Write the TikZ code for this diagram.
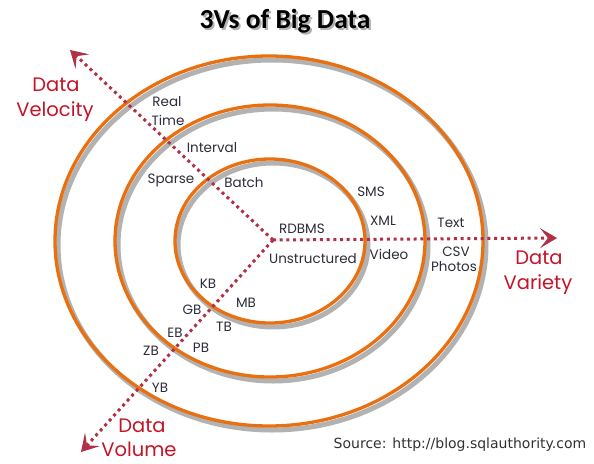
\documentclass[tikz,border=0pt]{standalone}
\usepackage{fontspec}
\setmainfont{Poppins}
\newfontfamily\titlefont{Carlito}
\newfontfamily\srcfont{DejaVu Sans}
\usetikzlibrary{arrows.meta}
\definecolor{ringor}{RGB}{232,112,16}
\definecolor{shadowgray}{RGB}{178,178,178}
\definecolor{axisred}{RGB}{178,48,70}
\definecolor{labred}{RGB}{196,20,40}
\definecolor{labgray}{RGB}{45,45,60}
\definecolor{srcgray}{RGB}{50,50,50}
\begin{document}
\begin{tikzpicture}[x=1pt,y=-1pt,
  ring/.style={draw=ringor,line width=3.3pt},
  ringshadow/.style={draw=shadowgray,line width=5pt},
  axis/.style={draw=axisred,line width=3pt,dash pattern=on 3pt off 3.7pt,
    -{Stealth[length=17pt,width=20pt,inset=8pt,line width=1pt,fill=axisred]}},
  lab/.style={font=\fontsize{13.5}{15}\selectfont,text=labgray,inner sep=0pt},
  axlab/.style={font=\fontsize{19.5}{22}\selectfont,text=labred,inner sep=0pt},
]
\useasboundingbox (0,0) rectangle (594,463);
\fill[white] (0,0) rectangle (594,463);

% ring shadows
\draw[ringshadow] (272,245) ellipse [x radius=214, y radius=185];
\draw[ringshadow] (273,245) ellipse [x radius=155, y radius=136];
\draw[ringshadow] (273,245) ellipse [x radius=95, y radius=82];
% rings
\draw[ring] (269,241) ellipse [x radius=214, y radius=185];
\draw[ring] (270,241) ellipse [x radius=155, y radius=136];
\draw[ring] (270,241) ellipse [x radius=95, y radius=82];

% axes
\coordinate (c) at (273,240);
\coordinate (velTip) at (70,50);
\coordinate (varTip) at (557,238);
\coordinate (volTip) at (81,452);
\draw[axis] (c) -- (velTip);
\draw[axis] (c) -- (varTip);
\draw[axis] (c) -- (volTip);

% title with drop shadow (one text)
\node[font=\titlefont\bfseries\fontsize{27.5}{30}\selectfont,text=black,inner sep=0pt] (title) at (285,22)
  {\rlap{\hspace{2pt}\raisebox{-2pt}{\textcolor{shadowgray}{3Vs of Big Data}}}3Vs of Big Data};

% axis labels
\node[axlab] (velA) at (56,85) {Data};
\node[axlab] (velB) at (55,112) {Velocity};
\node[axlab] (varA) at (539,258) {Data};
\node[axlab] (varB) at (538,285) {Variety};
\node[axlab] (volA) at (142,426) {Data};
\node[axlab] (volB) at (139,449) {Volume};

% velocity labels
\node[lab] (real) at (167,102) {Real};
\node[lab] (time) at (168,120) {Time};
\node[lab] (interval) at (212,148) {Interval};
\node[lab] (sparse) at (171,180) {Sparse};
\node[lab] (batch) at (244,183) {Batch};

% variety labels
\node[lab] (sms) at (371,192) {SMS};
\node[lab] (xml) at (383,221) {XML};
\node[lab] (rdbms) at (302,229) {RDBMS};
\node[lab] (unstr) at (313,259) {Unstructured};
\node[lab] (video) at (389,254) {Video};
\node[lab] (text) at (451,223) {Text};
\node[lab] (csv) at (456,252) {CSV};
\node[lab] (photos) at (454,267) {Photos};

% volume labels
\node[lab] (kb) at (208,284) {KB};
\node[lab] (mb) at (246,303) {MB};
\node[lab] (gb) at (192,310) {GB};
\node[lab] (tb) at (224,327) {TB};
\node[lab] (eb) at (175,333) {EB};
\node[lab] (pb) at (201,348) {PB};
\node[lab] (zb) at (151,351) {ZB};
\node[lab] (yb) at (160,388) {YB};

% source
\node[font=\srcfont\fontsize{14}{16}\selectfont,text=srcgray,inner sep=0pt] (src) at (460,445) {Source: http://blog.sqlauthority.com};
\end{tikzpicture}
\end{document}
